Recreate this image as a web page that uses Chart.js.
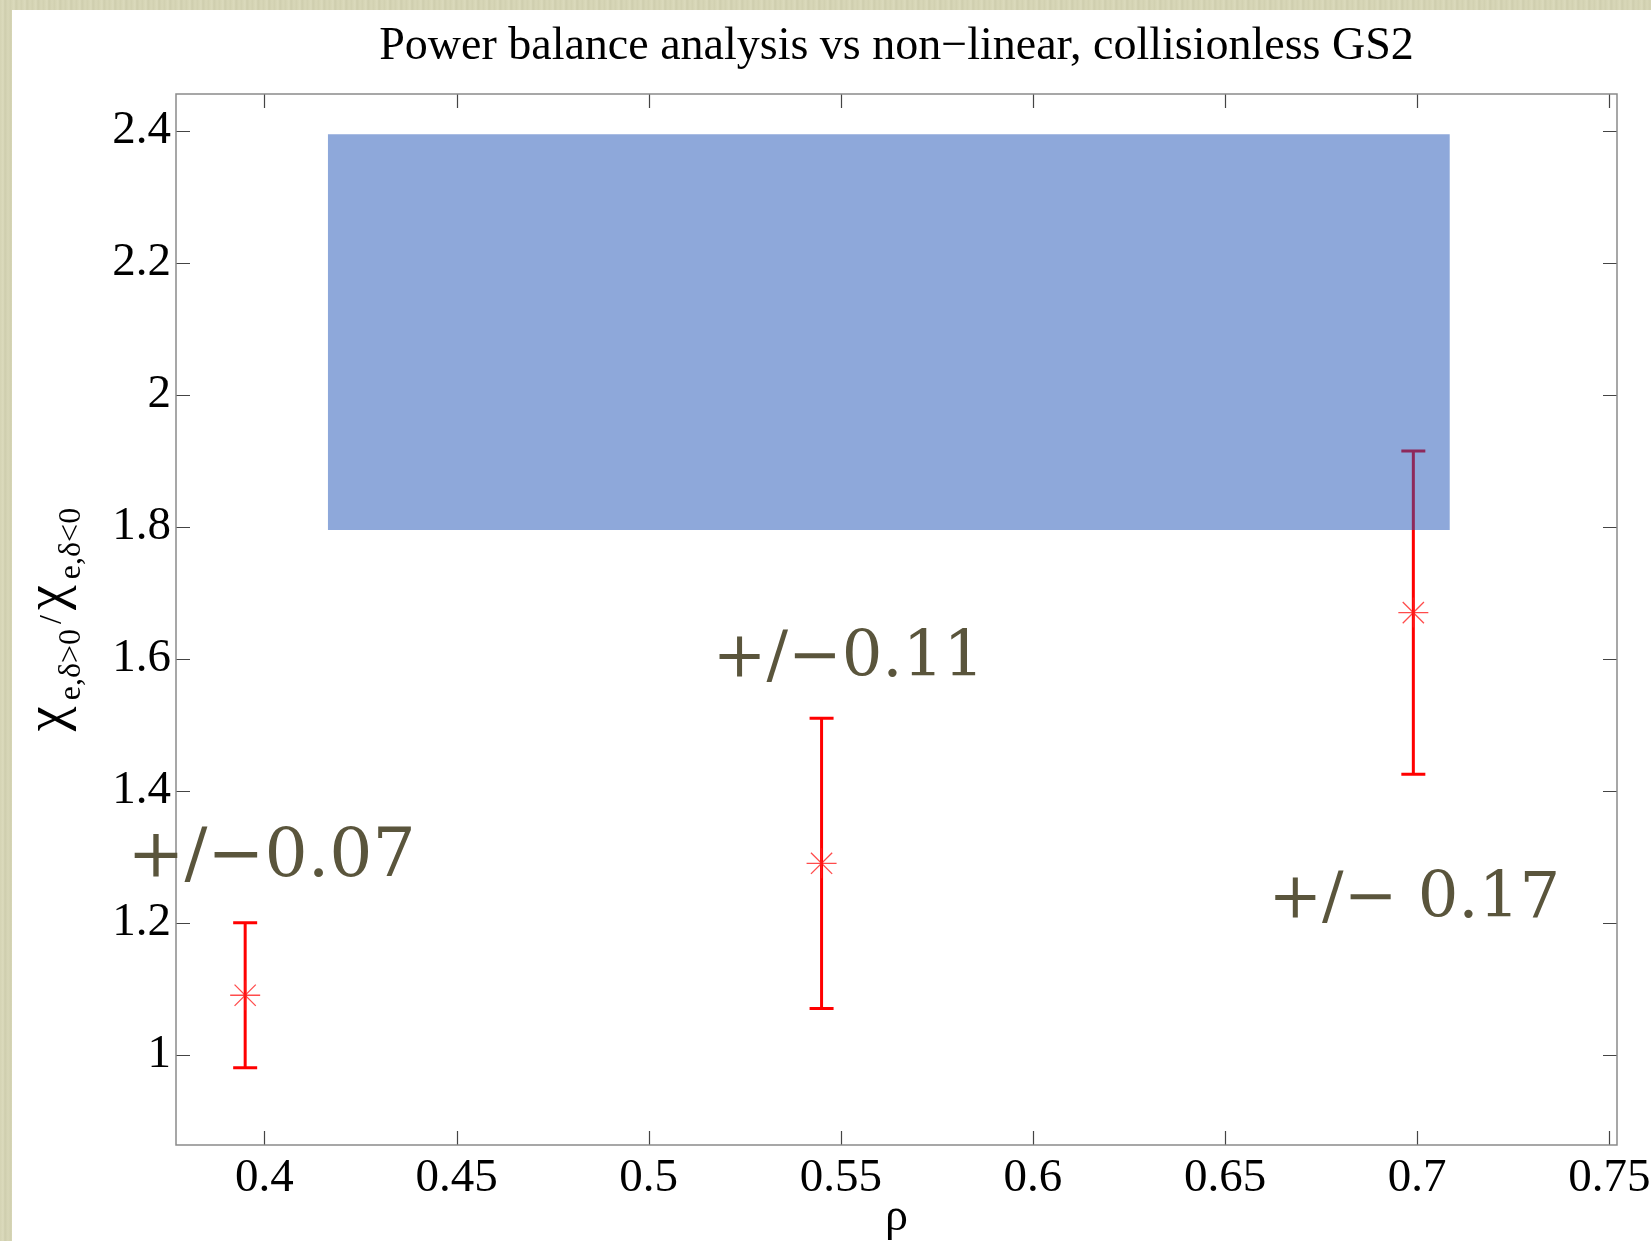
<!DOCTYPE html>
<html>
<head>
<meta charset="utf-8">
<script src="https://cdn.jsdelivr.net/npm/chart.js@4.4.0/dist/chart.umd.min.js"></script>
<style>
html, body { margin:0; padding:0; width:1651px; height:1241px; overflow:hidden; }
body { background: repeating-linear-gradient(90deg, #d4d3b3 0px, #dbdabc 3px, #cecdad 5px, #d8d7b8 8px, #d1d0b0 11px); }
#panel { position:absolute; left:12px; top:10px; right:0; bottom:0; background:#fff; }
#chart { position:absolute; left:0; top:0; }
</style>
</head>
<body>
<div id="panel"></div>
<canvas id="chart" width="1651" height="1241"></canvas>
<script>
// ------------------------
// DATA
// ------------------------
const rho = [0.395, 0.545, 0.699];
const ratio = [1.09, 1.29, 1.67];
const ratioLow = [0.98, 1.07, 1.425];
const ratioHigh = [1.20, 1.51, 1.915];

// shaded GS2 range
const boxRho = [0.4165, 0.7085];
const boxRatio = [1.795, 2.395];

const noteText = ['+/\u22120.07', '+/\u22120.11', '+/\u2212 0.17'];
const noteRho = [0.3644, 0.5167, 0.6613];
const noteRatio = [1.27, 1.574, 1.209];

const xTickValues = [0.4, 0.45, 0.5, 0.55, 0.6, 0.65, 0.7, 0.75];
const xTickLabels = ['0.4', '0.45', '0.5', '0.55', '0.6', '0.65', '0.7', '0.75'];
const yTickValues = [1, 1.2, 1.4, 1.6, 1.8, 2, 2.2, 2.4];
const yTickLabels = ['1', '1.2', '1.4', '1.6', '1.8', '2', '2.2', '2.4'];

const titleText = 'Power balance analysis vs non\u2212linear, collisionless GS2';
const serif = '"Liberation Serif", "Times New Roman", serif';

// ------------------------
// PLUGINS
// ------------------------
const errorBars = {
    id: 'errorBars',
    beforeDatasetsDraw(chart) {
        const ctx = chart.ctx;
        const x = chart.scales.x, y = chart.scales.y;
        ctx.save();
        ctx.strokeStyle = '#ff0000';
        ctx.lineWidth = 3;
        rho.forEach((r, i) => {
            const px = x.getPixelForValue(r);
            const top = y.getPixelForValue(ratioHigh[i]);
            const bot = y.getPixelForValue(ratioLow[i]);
            ctx.beginPath();
            ctx.moveTo(px, top); ctx.lineTo(px, bot);
            ctx.moveTo(px - 12, top); ctx.lineTo(px + 12, top);
            ctx.moveTo(px - 12, bot); ctx.lineTo(px + 12, bot);
            ctx.stroke();
        });
        ctx.restore();
    }
};

// chi_{e,delta>0} / chi_{e,delta<0}, drawn piece by piece for the subscripts
function drawYLabel(ctx, cx, cy) {
    const parts = [
        { t: '\u03c7', size: 56, dy: 0, gap: 6 },
        { t: 'e,\u03b4>0', size: 32, dy: 16, gap: 5 },
        { t: '/', size: 32, dy: -3, gap: 5 },
        { t: '\u03c7', size: 56, dy: 0, gap: 6 },
        { t: 'e,\u03b4<0', size: 32, dy: 16, gap: 0 }
    ];
    ctx.save();
    ctx.translate(cx, cy);
    ctx.rotate(-Math.PI / 2);
    ctx.fillStyle = '#000';
    ctx.textBaseline = 'alphabetic';
    ctx.textAlign = 'left';
    let total = 0;
    parts.forEach(p => {
        ctx.font = p.size + 'px ' + serif;
        p.w = ctx.measureText(p.t).width;
        total += p.w + p.gap;
    });
    let pos = -total / 2;
    parts.forEach(p => {
        ctx.font = p.size + 'px ' + serif;
        ctx.fillText(p.t, pos, p.dy);
        pos += p.w + p.gap;
    });
    ctx.restore();
}

const frame = {
    id: 'frame',
    afterDatasetsDraw(chart) {
        const ctx = chart.ctx;
        const a = chart.chartArea;
        const x = chart.scales.x, y = chart.scales.y;
        ctx.save();
        // inward ticks on all four sides
        ctx.strokeStyle = '#444';
        ctx.lineWidth = 1.2;
        ctx.beginPath();
        xTickValues.forEach(v => {
            const px = Math.round(x.getPixelForValue(v)) + 0.5;
            ctx.moveTo(px, a.bottom); ctx.lineTo(px, a.bottom - 14);
            ctx.moveTo(px, a.top); ctx.lineTo(px, a.top + 14);
        });
        yTickValues.forEach(v => {
            const py = Math.round(y.getPixelForValue(v)) + 0.5;
            ctx.moveTo(a.left, py); ctx.lineTo(a.left + 14, py);
            ctx.moveTo(a.right, py); ctx.lineTo(a.right - 14, py);
        });
        ctx.stroke();
        ctx.strokeStyle = '#8a8a8a';
        ctx.lineWidth = 1.5;
        ctx.strokeRect(a.left, a.top, a.right - a.left, a.bottom - a.top);

        // annotations
        ctx.fillStyle = '#5a553c';
        ctx.textAlign = 'left';
        ctx.textBaseline = 'alphabetic';
        noteText.forEach((t, i) => {
            ctx.font = (i === 0 ? 68 : 64) + 'px "DejaVu Serif", serif';
            ctx.fillText(t, x.getPixelForValue(noteRho[i]), y.getPixelForValue(noteRatio[i]));
        });

        // title and axis titles
        ctx.fillStyle = '#000';
        ctx.textAlign = 'center';
        ctx.font = '46px ' + serif;
        const cx = (a.left + a.right) / 2;
        ctx.fillText(titleText, cx, 59);
        ctx.font = '46px ' + serif;
        ctx.fillText('\u03c1', cx, 1230);
        drawYLabel(ctx, 64, (a.top + a.bottom) / 2);
        ctx.restore();
    }
};

// ------------------------
// CHART
// ------------------------
new Chart(document.getElementById('chart').getContext('2d'), {
    type: 'scatter',
    data: {
        datasets: [
            {
                label: 'GS2',
                showLine: true,
                data: [{ x: boxRho[0], y: boxRatio[1] }, { x: boxRho[1], y: boxRatio[1] }],
                borderWidth: 0,
                borderColor: 'rgba(0,0,0,0)',
                pointRadius: 0,
                backgroundColor: 'rgba(29,81,181,0.5)',
                fill: { value: boxRatio[0] }
            },
            {
                label: 'power balance',
                data: rho.map((r, i) => ({ x: r, y: ratio[i] })),
                pointStyle: 'star',
                pointRadius: 15,
                borderWidth: 1.3,
                borderColor: 'rgba(255,30,30,0.8)',
                backgroundColor: 'rgba(255,30,30,0.8)'
            }
        ]
    },
    options: {
        responsive: false,
        animation: false,
        layout: { padding: { left: 0, top: 94, right: 34, bottom: 0 } },
        plugins: { legend: { display: false }, tooltip: { enabled: false } },
        scales: {
            x: {
                type: 'linear',
                min: 0.377, max: 0.752,
                grid: { display: false, drawTicks: false },
                border: { display: false },
                afterBuildTicks: s => { s.ticks = xTickValues.map(v => ({ value: v })); },
                afterFit: s => { s.height = 96; s.paddingLeft = 0; s.paddingRight = 0; },
                ticks: {
                    color: '#000',
                    font: { family: serif, size: 47 },
                    padding: 5,
                    maxRotation: 0,
                    autoSkip: false,
                    callback: (v) => xTickLabels[xTickValues.indexOf(v)]
                }
            },
            y: {
                type: 'linear',
                min: 0.863, max: 2.456,
                grid: { display: false, drawTicks: false },
                border: { display: false },
                afterBuildTicks: s => { s.ticks = yTickValues.map(v => ({ value: v })); },
                afterFit: s => { s.width = 176; s.paddingTop = 0; s.paddingBottom = 0; },
                ticks: {
                    color: '#000',
                    font: { family: serif, size: 47 },
                    padding: 5,
                    autoSkip: false,
                    callback: (v) => yTickLabels[yTickValues.indexOf(v)]
                }
            }
        }
    },
    plugins: [errorBars, frame]
});
</script>
</body>
</html>
